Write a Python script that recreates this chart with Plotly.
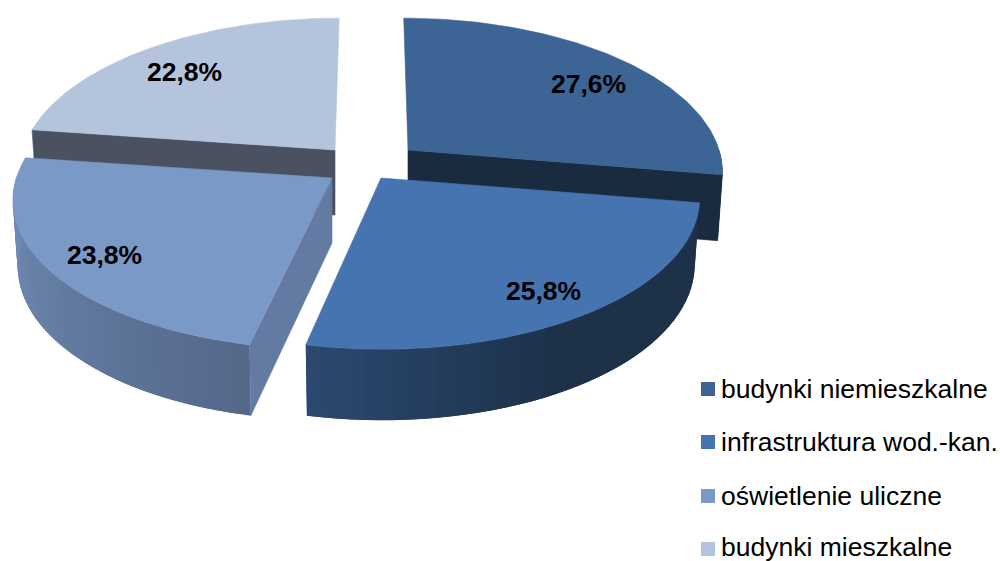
import math
import plotly.graph_objects as go

categories = ["budynki niemieszkalne", "infrastruktura wod.-kan.", "oświetlenie uliczne", "budynki mieszkalne"]
values = [27.6, 25.8, 23.8, 22.8]

# pseudo-3D geometry (style only)
RX, RY, K, VX = 312, 149, 0.13, 371
apex_x = [408, 381, 332, 335]
apex_y = [150, 178, 178, 150]
scale_x = [0.997, 1.012, 1.012, 1.0]
top_colors = ["#3C6494", "#4674B0", "#7A99C6", "#B5C4DD"]
cut_colors = ["#1A2A3F", None, "#637AA3", "#4A5160"]
cut_side = ["end", None, "start", "start"]
wall_dark = [(26, 42, 63), (29, 49, 73), (84, 104, 138), (74, 81, 96)]
wall_light = [(26, 42, 63), (44, 74, 114), (112, 137, 179), (74, 81, 96)]
label_pos = [(588, 84), (543, 291), (104, 255), (184, 72)]
legend_x, legend_y = [708, 708, 708, 708], [389, 442, 496, 549]
legend_text_x, legend_text_y = [721, 721, 721, 721], [391, 444, 498, 549]
draw_order = [3, 0, 2, 1]

fig = go.Figure()


def proj(i, deg, bottom=False):
    t = math.radians(deg)
    X, Y = math.sin(t), math.cos(t)
    s = 1 / (1 + K * Y)
    f = 0.985 if bottom else 1.0
    x = VX + (apex_x[i] - VX + f * scale_x[i] * RX * X) * s
    y = apex_y[i] - RY * Y * s
    if bottom:
        y += 65 + 6 * max(0.0, -Y)
    return x, y


def apex(i, bottom=False):
    return apex_x[i], apex_y[i] + (65 if bottom else 0)


def poly(pts, color, lw=0.6):
    xs = [p[0] for p in pts] + [pts[0][0]]
    ys = [p[1] for p in pts] + [pts[0][1]]
    fig.add_trace(go.Scatter(x=xs, y=ys, mode="lines", fill="toself", fillcolor=color,
                             line=dict(color=color, width=lw), hoverinfo="skip", showlegend=False))


def lerp(a, b, u):
    return "rgb(%d,%d,%d)" % tuple(round(a[j] + (b[j] - a[j]) * u) for j in range(3))


starts = [sum(values[:i]) * 3.6 for i in range(len(values))]
ends = [sum(values[:i + 1]) * 3.6 for i in range(len(values))]

for i in draw_order:
    a0, a1 = starts[i], ends[i]
    # outer wall (front-facing part only); strips overlap so no seams show
    w0, w1 = max(a0, 90), min(a1, 270)
    if w1 > w0:
        n = 40
        for j in range(n):
            d0 = w0 + (w1 - w0) * j / n
            d1 = w0 + (w1 - w0) * min(j + 2, n) / n
            if i == 1:
                u = max(0.0, (d0 - 150) / (w1 - 150))
            elif i == 2:
                u = min(1.0, (d0 - w0) / (w1 - w0) * 1.15)
            else:
                u = 0
            dm = (d0 + d1) / 2
            poly([proj(i, d0), proj(i, dm), proj(i, d1), proj(i, d1, True), proj(i, dm, True), proj(i, d0, True)],
                 lerp(wall_dark[i], wall_light[i], u), lw=0)
    # cut face
    if cut_side[i]:
        a = a1 if cut_side[i] == "end" else a0
        poly([apex(i), proj(i, a), proj(i, a, True), apex(i, True)], cut_colors[i])
    # top face
    steps = 80
    rim = [proj(i, a0 + (a1 - a0) * j / steps) for j in range(steps + 1)]
    poly([apex(i)] + rim, top_colors[i])

# data labels
for i, v in enumerate(values):
    label = f"{v:.1f}%".replace(".", ",")
    fig.add_annotation(x=label_pos[i][0], y=label_pos[i][1], text="<b>" + label + "</b>", showarrow=False,
                       font=dict(family="Liberation Sans", size=26.5, color="#000000"), xanchor="center", yanchor="middle")

# legend
for i, c in enumerate(categories):
    fig.add_trace(go.Scatter(x=[legend_x[i]], y=[legend_y[i]], mode="markers",
                             marker=dict(symbol="square", size=14, color=top_colors[i]),
                             cliponaxis=False, hoverinfo="skip", showlegend=False))
    fig.add_trace(go.Scatter(x=[legend_text_x[i]], y=[legend_text_y[i]], mode="text", text=[c], textposition="middle right",
                             textfont=dict(family="Liberation Sans", size=26.5, color="#000000"),
                             cliponaxis=False, hoverinfo="skip", showlegend=False))

fig.update_layout(width=1000, height=561, margin=dict(l=0, r=0, t=0, b=0), paper_bgcolor="white", plot_bgcolor="white",
                  xaxis=dict(range=[0, 1000], visible=False, fixedrange=True),
                  yaxis=dict(range=[561, 0], visible=False, fixedrange=True), showlegend=False)
fig.write_html("out.html", config=dict(displayModeBar=False),
               post_script="document.body.style.margin='0';document.body.style.overflow='hidden';")
